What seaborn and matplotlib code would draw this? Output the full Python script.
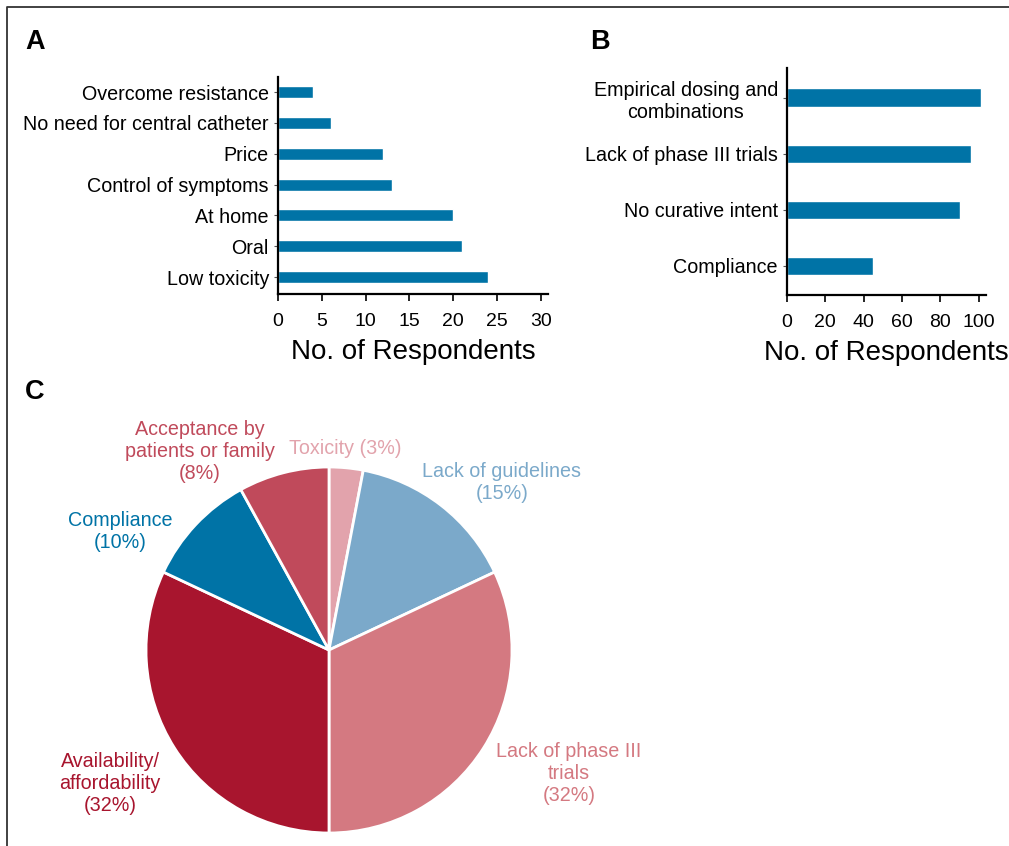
import matplotlib
matplotlib.use("Agg")
import matplotlib.pyplot as plt
from matplotlib.lines import Line2D
import seaborn as sns
import pandas as pd

# ---- data ----
a_labels = ["Overcome resistance", "No need for central catheter", "Price",
            "Control of symptoms", "At home", "Oral", "Low toxicity"]
a_values = [4, 6, 12, 13, 20, 21, 24]
a_ticks = [0, 5, 10, 15, 20, 25, 30]

b_labels = ["Empirical dosing and\ncombinations", "Lack of phase III trials",
            "No curative intent", "Compliance"]
b_values = [101, 96, 90, 45]
b_ticks = [0, 20, 40, 60, 80, 100]

c_labels = ["Toxicity (3%)", "Lack of guidelines\n(15%)", "Lack of phase III\ntrials\n(32%)",
            "Availability/\naffordability\n(32%)", "Compliance\n(10%)",
            "Acceptance by\npatients or family\n(8%)"]
c_values = [3, 15, 32, 32, 10, 8]
c_colors = ["#E2A3AC", "#7BA9CA", "#D47981", "#A8152E", "#0073A6", "#C04A5B"]

BAR = "#0073A6"
W, H = 1009, 846

sns.set_theme(style="white")
plt.rcParams["font.family"] = ["Liberation Sans", "DejaVu Sans"]

fig = plt.figure(figsize=(W / 100, H / 100), dpi=100)


def frac(x0, y0, x1, y1):
    return [x0 / W, 1 - y1 / H, (x1 - x0) / W, (y1 - y0) / H]


def style_bar_axes(ax):
    sns.despine(ax=ax)
    for s in ("left", "bottom"):
        ax.spines[s].set_color("black")
        ax.spines[s].set_linewidth(1.6)
    ax.tick_params(axis="x", direction="out", length=5, width=1.2, color="black",
                   labelsize=14, pad=9, bottom=True)
    ax.tick_params(axis="y", direction="out", length=3, width=0.8, color="#555555",
                   labelsize=14.2, pad=3.5, left=True)
    ax.set_ylabel("")
    ax.set_xlabel("No. of Respondents", fontsize=20, labelpad=6, color="black")
    for t in ax.get_xticklabels() + ax.get_yticklabels():
        t.set_color("black")


# ---- Panel A ----
axA = fig.add_axes(frac(278, 77, 548, 294))
dfA = pd.DataFrame({"label": a_labels, "value": a_values})
sns.barplot(data=dfA, x="value", y="label", orient="h", color=BAR,
            saturation=1, width=0.39, ax=axA)
axA.set_xlim(0, 30.8)
axA.set_ylim(6.55, -0.49)
axA.set_xticks(a_ticks)
style_bar_axes(axA)

# ---- Panel B ----
axB = fig.add_axes(frac(787, 68, 986, 295))
dfB = pd.DataFrame({"label": b_labels, "value": b_values})
sns.barplot(data=dfB, x="value", y="label", orient="h", color=BAR,
            saturation=1, width=0.33, ax=axB)
axB.set_xlim(0, 103.8)
axB.set_ylim(3.52, -0.53)
axB.set_xticks(b_ticks)
style_bar_axes(axB)
for t in axB.get_yticklabels():
    t.set_multialignment("center")
    t.set_linespacing(1.24)

# ---- Panel C ----
cx, cy, r = 329, 650, 183
axC = fig.add_axes(frac(cx - r, cy - r, cx + r, cy + r))
axC.pie(c_values, colors=c_colors, startangle=90, counterclock=False, radius=1,
        wedgeprops=dict(edgecolor="white", linewidth=2))
axC.set_xlim(-1, 1)
axC.set_ylim(-1, 1)
axC.set_aspect("auto")
axC.axis("off")

label_pos = [(345, 448), (502, 482), (569, 773), (110, 783), (120, 531), (200, 451)]
for lab, col, (px, py) in zip(c_labels, c_colors, label_pos):
    axC.text((px - cx) / r, (cy - py) / r, lab, color=col, fontsize=14.2,
             ha="center", va="center", multialignment="center",
             linespacing=1.2, clip_on=False)

# ---- panel letters ----
for letter, (px, py) in zip("ABC", [(25, 42), (590, 42), (25, 392)]):
    fig.text(px / W, 1 - py / H, letter, fontsize=19.5, fontweight="bold",
             ha="left", va="center", color="black")

# ---- border ----
fig.add_artist(Line2D([7 / W, 7 / W, 1.0], [0.0, 1 - 7 / H, 1 - 7 / H],
                      transform=fig.transFigure, color="#333333", linewidth=1.3))

fig.savefig("out.png", dpi=100)
